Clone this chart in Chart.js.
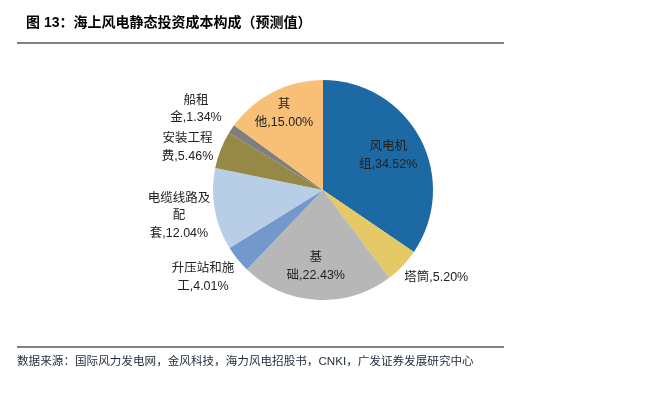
<!DOCTYPE html>
<html>
<head>
<meta charset="utf-8">
<script src="https://cdn.jsdelivr.net/npm/chart.js@4"></script>
<style>
  html, body { margin: 0; padding: 0; background: #fff; }
  #wrap { width: 647px; height: 402px; position: relative; }
</style>
</head>
<body>
<div id="wrap"><canvas id="grafico" width="647" height="402"></canvas></div>
<script>
// datos del gráfico
const categorias = ['风电机组', '塔筒', '基础', '升压站和施工', '电缆线路及配套', '安装工程费', '船租金', '其他'];
const valores = [34.52, 5.20, 22.43, 4.01, 12.04, 5.46, 1.34, 15.00];
// texto de las etiquetas, partido en líneas como en el original
const lineasEtiqueta = [
    ['风电机', '组,34.52%'],
    ['塔筒,5.20%'],
    ['基', '础,22.43%'],
    ['升压站和施', '工,4.01%'],
    ['电缆线路及', '配', '套,12.04%'],
    ['安装工程', '费,5.46%'],
    ['船租', '金,1.34%'],
    ['其', '他,15.00%']
];
const titulo = '图 13：海上风电静态投资成本构成（预测值）';
const fuente = '数据来源：国际风力发电网，金风科技，海力风电招股书，CNKI，广发证券发展研究中心';

const colores = ['#1D69A4', '#E6C967', '#B7B7B7', '#7398CB', '#B8CDE6', '#968946', '#7F7F7F', '#F8C077'];
// posición de etiquetas: [factor de radio, ajuste de ángulo en grados]
const posEtiqueta = [[0.67, 0], [1.3, -6], [0.7, 2], [1.35, 3], [1.33, 0], [1.29, -4], [1.37, -1], [0.78, 0]];

const fuenteTxt = '"Liberation Sans", "Noto Sans CJK SC", sans-serif';

const pluginMarco = {
    id: 'marco',
    afterDraw(chart) {
        const ctx = chart.ctx;
        ctx.save();
        // título
        ctx.fillStyle = '#000';
        ctx.font = 'bold 14px ' + fuenteTxt;
        ctx.textBaseline = 'middle';
        ctx.textAlign = 'left';
        ctx.fillText(titulo, 26, 23);
        // líneas
        ctx.strokeStyle = '#7f7f7f';
        ctx.lineWidth = 2;
        ctx.beginPath();
        ctx.moveTo(17, 43); ctx.lineTo(504, 43);
        ctx.moveTo(17, 347); ctx.lineTo(504, 347);
        ctx.stroke();
        // fuente
        ctx.fillStyle = '#1f2a3a';
        ctx.font = '11.6px ' + fuenteTxt;
        ctx.fillText(fuente, 17, 362);

        // etiquetas de datos
        const meta = chart.getDatasetMeta(0);
        ctx.fillStyle = '#222';
        ctx.font = '12.5px ' + fuenteTxt;
        ctx.textAlign = 'center';
        meta.data.forEach((arc, i) => {
            const p = arc.getProps(['x', 'y', 'startAngle', 'endAngle', 'outerRadius'], true);
            const ang = (p.startAngle + p.endAngle) / 2 + posEtiqueta[i][1] * Math.PI / 180;
            const r = p.outerRadius * posEtiqueta[i][0];
            const cx = p.x + Math.cos(ang) * r;
            const cy = p.y + Math.sin(ang) * r;
            const lineas = lineasEtiqueta[i];
            const alto = 17.5;
            const y0 = cy - (lineas.length - 1) * alto / 2;
            lineas.forEach((t, k) => ctx.fillText(t, cx, y0 + k * alto));
        });
        ctx.restore();
    }
};

const ctx = document.getElementById('grafico').getContext('2d');
const miGrafico = new Chart(ctx, {
    type: 'pie',
    data: {
        labels: categorias,
        datasets: [{
            data: valores,
            backgroundColor: colores,
            borderWidth: 0
        }]
    },
    options: {
        responsive: false,
        animation: false,
        layout: { padding: { top: 80, bottom: 102, left: 213, right: 214 } },
        plugins: {
            legend: { display: false },
            tooltip: { enabled: false }
        }
    },
    plugins: [pluginMarco]
});
</script>
</body>
</html>
